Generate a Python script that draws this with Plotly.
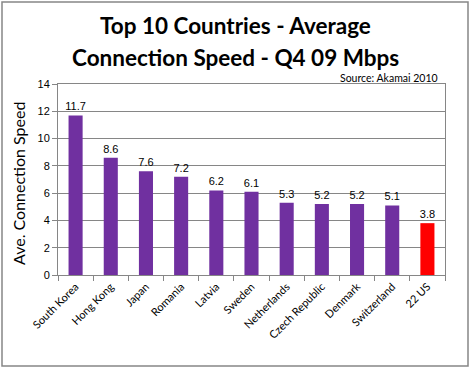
import plotly.graph_objects as go

countries = ["South Korea", "Hong Kong", "Japan", "Romania", "Latvia", "Sweden",
             "Netherlands", "Czech Republic", "Denmark", "Switzerland", "22 US"]
speeds = [11.7, 8.6, 7.6, 7.2, 6.2, 6.1, 5.3, 5.2, 5.2, 5.1, 3.8]
colors = ["#7030A0"] * 10 + ["#FF0000"]
labels = [f"{v:.1f}" for v in speeds]
title_lines = ["Top 10 Countries - Average", "Connection Speed - Q4 09 Mbps"]

W, H = 471, 369
L, R, T, B = 58, 26, 84, 94
pw, ph = W - L - R, H - T - B


def py(y):
    return (H - B - y) / ph


def px(x):
    return (x - L) / pw


fig = go.Figure(go.Bar(
    x=countries, y=speeds, marker=dict(color=colors, line=dict(width=0)),
    text=labels, textposition="outside", cliponaxis=False, constraintext="none",
    textfont=dict(family="Liberation Sans, Arial", size=11, color="#000000"),
))

ann = [dict(text=f"<b>{t}</b>", xref="paper", yref="paper", x=px(235), y=py(yy),
            xanchor="center", yanchor="middle", showarrow=False,
            font=dict(family="Lato, Open Sans", size=22.5, color="#000000"))
       for t, yy in zip(title_lines, [25, 57])]
ann.append(dict(text="Source: Akamai 2010", xref="paper", yref="paper",
                x=px(440), y=py(78), xanchor="right", yanchor="middle",
                showarrow=False, font=dict(family="Lato, Open Sans", size=10.5, color="#000000")))
ann.append(dict(text="Ave. Connection Speed", xref="paper", yref="paper",
                x=px(18), y=py(184), xanchor="center", yanchor="middle", textangle=-90,
                showarrow=False, font=dict(family="Lato, Open Sans", size=16, color="#000000")))

fig.update_layout(
    width=W, height=H, margin=dict(l=L, r=R, t=T, b=B, autoexpand=False),
    paper_bgcolor="white", plot_bgcolor="white",
    bargap=0.6, showlegend=False,
    xaxis=dict(tickangle=-45, tickfont=dict(family="Lato, Open Sans", size=11, color="#000000"),
               showline=True, linecolor="#868686", linewidth=1, mirror=True,
               ticks="outside", tickson="boundaries", ticklen=5, tickcolor="#868686",
               showgrid=False, automargin=False),
    yaxis=dict(range=[0, 14], dtick=2, tickfont=dict(family="Liberation Sans, Arial", size=11, color="#000000"),
               showgrid=True, gridcolor="#868686", gridwidth=1,
               showline=True, linecolor="#868686", linewidth=1, mirror=True,
               ticks="outside", ticklen=5, tickcolor="#868686", zeroline=False,
               automargin=False),
    annotations=ann,
    shapes=[dict(type="rect", xref="paper", yref="paper",
                 x0=px(2), x1=px(468), y0=py(366), y1=py(2),
                 line=dict(color="#868686", width=1.5), layer="below")],
)

fig.write_html("out.html", config={"displayModeBar": False},
               post_script="document.body.style.margin='0';document.body.style.overflow='hidden';")
